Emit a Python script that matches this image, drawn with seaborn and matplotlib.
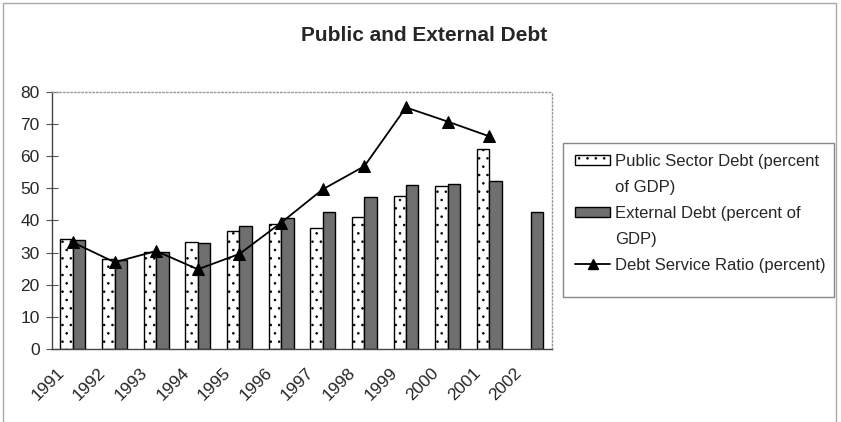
import numpy as np
import pandas as pd
import matplotlib.pyplot as plt
import matplotlib.transforms as mtransforms
import seaborn as sns
from matplotlib.patches import Patch, Rectangle
from matplotlib.lines import Line2D

years = [str(y) for y in range(1991, 2003)]
public_debt = [34.3, 28.0, 30.3, 33.4, 36.7, 38.8, 37.6, 41.1, 47.6, 50.8, 62.1, np.nan]
external_debt = [34.0, 27.7, 30.3, 33.0, 38.2, 40.7, 42.5, 47.2, 51.1, 51.4, 52.3, 42.6]
service_ratio = [33.2, 27.0, 30.5, 24.8, 29.6, 39.3, 49.7, 56.9, 75.2, 70.8, 66.2, np.nan]

series_names = ['Public Sector Debt (percent of GDP)',
                'External Debt (percent of GDP)',
                'Debt Service Ratio (percent)']
# legend lines as wrapped in the original
legend_lines = ['Public Sector Debt (percent', 'of GDP)',
                'External Debt (percent of', 'GDP)',
                'Debt Service Ratio (percent)']

sns.set_style('white')
plt.rcParams['font.family'] = ['Liberation Sans', 'DejaVu Sans']
plt.rcParams['hatch.linewidth'] = 0.6

bars_df = pd.DataFrame({
    'Year': years * 2,
    'Value': public_debt + external_debt,
    'Series': [series_names[0]] * len(years) + [series_names[1]] * len(years),
})

fig = plt.figure(figsize=(8.41, 4.22), dpi=100)
ax = fig.add_axes([0.062, 0.173, 0.594, 0.609])

sns.barplot(data=bars_df, x='Year', y='Value', hue='Series', order=years,
            hue_order=series_names[:2], errorbar=None, width=0.6, gap=0,
            legend=False, ax=ax)

# bar styling: dotted white bars and dark stippled bars
for bar in ax.containers[0]:
    bar.set_facecolor('white')
    bar.set_edgecolor('black')
    bar.set_hatch('..')
    bar.set_linewidth(1.0)
for bar in ax.containers[1]:
    bar.set_facecolor('#6f6f6f')
    bar.set_edgecolor('black')
    bar.set_linewidth(1.0)

sns.lineplot(x=np.arange(len(years)), y=service_ratio, color='black', lw=1.3,
             marker='^', markersize=8, markeredgecolor='black', ax=ax)

ax.set_xlim(-0.5, len(years) - 0.5)
ax.set_ylim(0, 80)
ax.set_yticks(range(0, 81, 10))
ax.set_xticks(range(len(years)))
ax.set_xticklabels(years, rotation=45, ha='right', va='top')
ax.set_xticks(np.arange(-0.5, len(years), 1), minor=True)
ax.tick_params(axis='x', which='major', length=0, labelsize=12.5, pad=0)
ax.tick_params(axis='x', which='minor', length=8, width=0.8, direction='inout', color='#555555')
ax.tick_params(axis='y', length=8, width=0.8, direction='inout', labelsize=12.5,
               left=True, color='#555555', pad=5)
ax.set_xlabel('')
ax.set_ylabel('')

# shift rotated year labels down-left like the original
shift = mtransforms.ScaledTranslation(-0.06, -0.16, fig.dpi_scale_trans)
for lab in ax.get_xticklabels():
    lab.set_transform(lab.get_transform() + shift)

for side in ['left', 'bottom']:
    ax.spines[side].set_color('#444444')
    ax.spines[side].set_linewidth(1.0)
for side in ['top', 'right']:
    ax.spines[side].set_color('#999999')
    ax.spines[side].set_linewidth(1.0)
    ax.spines[side].set_linestyle(':')

fig.text(0.504, 0.917, 'Public and External Debt', ha='center', va='center',
         fontsize=15, fontweight='bold')

blank = Patch(visible=False)
handles = [
    Patch(facecolor='white', edgecolor='black', hatch='..'),
    blank,
    Patch(facecolor='#6f6f6f', edgecolor='black'),
    blank,
    Line2D([], [], color='black', lw=1.3, marker='^', markersize=7),
]
leg = fig.legend(handles=handles, labels=legend_lines, loc='upper left',
                 bbox_to_anchor=(0.674, 0.655), fontsize=12, frameon=False,
                 handlelength=2.1, handleheight=0.55, handletextpad=0.3,
                 labelspacing=0.66, borderpad=0)

# legend box and chart area border
fig.patches.append(Rectangle((563 / 841, 1 - 297 / 422), 271 / 841, 154 / 422,
                             transform=fig.transFigure, fill=False,
                             edgecolor='#888888', lw=1.0))
fig.patches.append(Rectangle((3 / 841, -0.01), 833 / 841, 1 - 3 / 422 + 0.01,
                             transform=fig.transFigure, fill=False,
                             edgecolor='#aaaaaa', lw=1.0))

fig.savefig('out.png', dpi=100)
